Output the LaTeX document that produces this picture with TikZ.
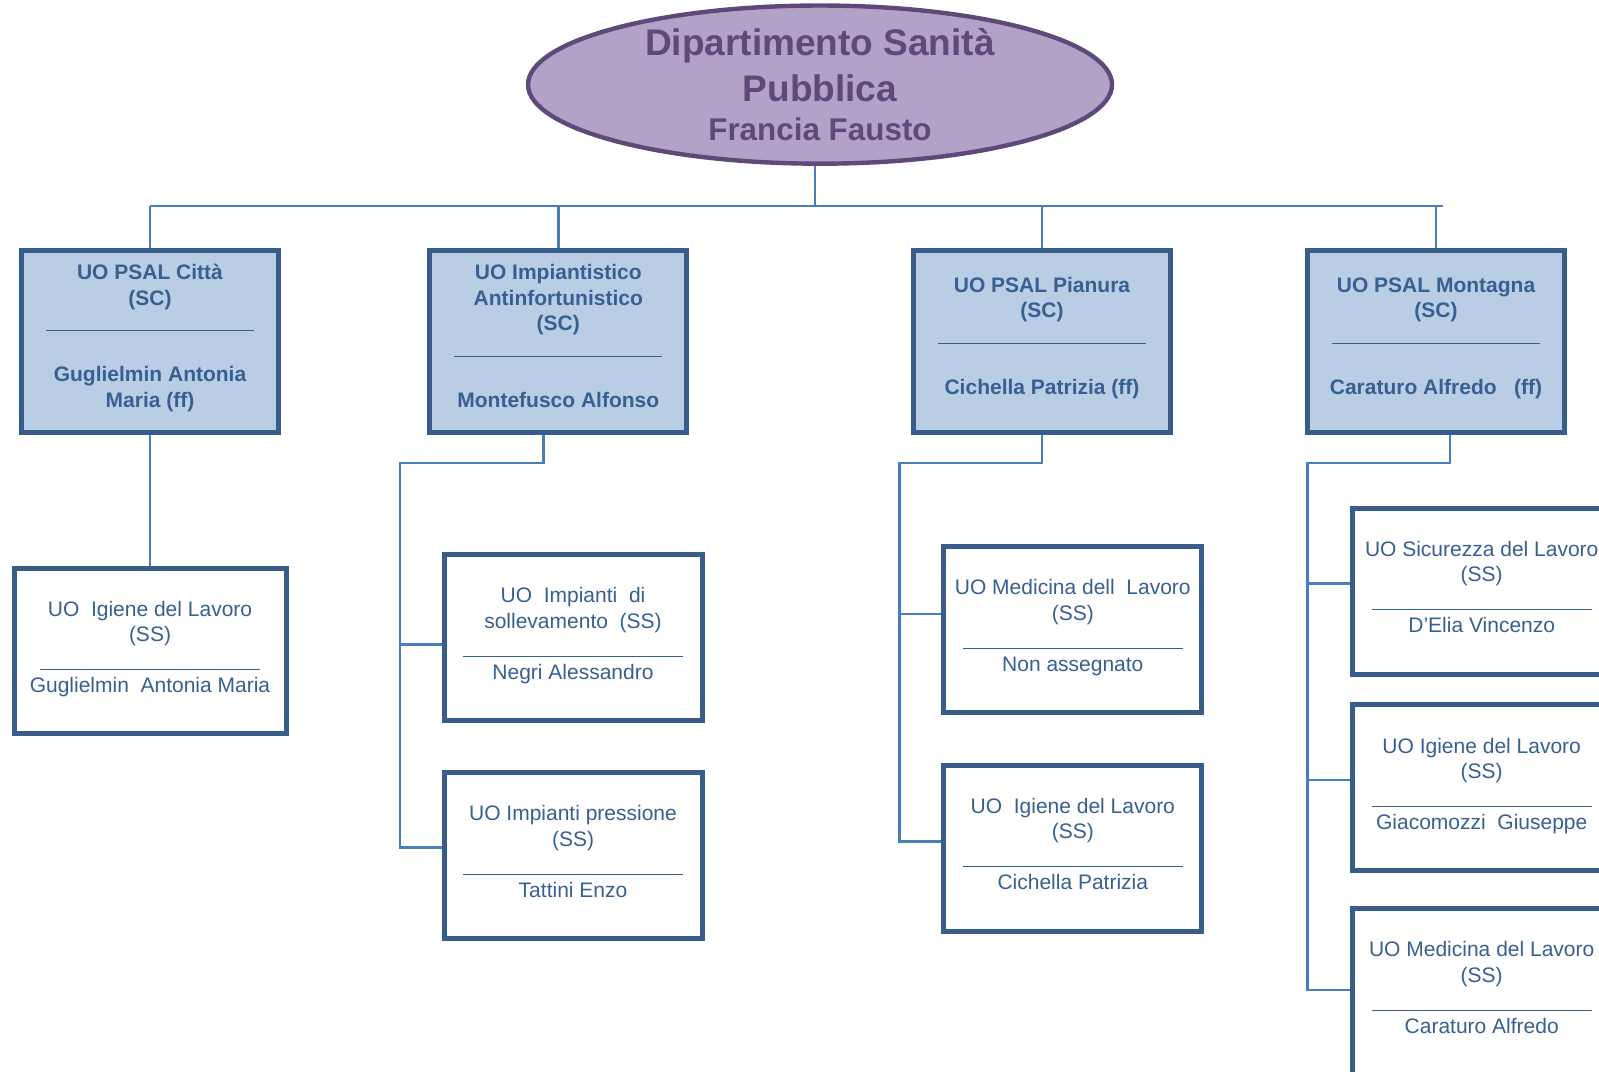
\documentclass[tikz,border=0pt]{standalone}
\usepackage{fontspec}
\setmainfont{Liberation Sans}
\usepackage{tikz}
\usetikzlibrary{shapes.geometric}
\definecolor{lilla}{HTML}{B3A2C7}
\definecolor{lillascuro}{HTML}{5F497A}
\definecolor{azzurro}{HTML}{B9CDE5}
\definecolor{bordo}{HTML}{385D8A}
\definecolor{linea}{HTML}{4A7EBB}
\definecolor{testo}{HTML}{376092}
\tikzstyle{dipartimento}=[ellipse, draw=lillascuro, fill=lilla, line width=2.2pt, minimum width=292pt, minimum height=73pt, inner sep=0pt, text=lillascuro, align=center, font=\bfseries\fontsize{18.5}{22.8}\selectfont]
\tikzstyle{uosc}=[rectangle, draw=bordo, fill=azzurro, line width=2.4pt, minimum width=128.5pt, minimum height=91pt, inner sep=0pt, text depth=6pt, text=testo, align=center, font=\bfseries\fontsize{10.5}{12.75}\selectfont]
\tikzstyle{uoss}=[rectangle, draw=bordo, fill=white, line width=2.5pt, minimum width=129pt, minimum height=83pt, inner sep=0pt, text depth=4pt, text=testo, align=center, font=\fontsize{10.5}{12.75}\selectfont]
\tikzstyle{collegamento}=[draw=linea, line width=1.2pt]
\newcommand{\riga}[2][-1.5pt]{\rule[#1]{#2}{0.5pt}}

\begin{document}
\begin{tikzpicture}[x=0.5pt, y=-0.5pt]
	\path[use as bounding box, clip] (0,0) rectangle (1599,1071);
	\node[dipartimento] (dsp) at (820,84.6) {Dipartimento Sanità\\Pubblica\\[-3.4pt]{\fontsize{15.7}{19.4}\selectfont Francia Fausto}};
	\node[uosc] (psal1) at (150,341.7) {UO PSAL Città\\(SC)\\\riga[-0.3pt]{104pt}\\[12.75pt]Guglielmin Antonia\\Maria (ff)};
	\node[uosc] (psal2) at (558.3,341.7) {UO Impiantistico\\Antinfortunistico\\(SC)\\\riga[-0.3pt]{104pt}\\[12.75pt]Montefusco Alfonso};
	\node[uosc] (psal3) at (1042,341.7) {UO PSAL Pianura\\(SC)\\\riga[-0.3pt]{104pt}\\[12.75pt]Cichella Patrizia (ff)};
	\node[uosc] (psal4) at (1436,341.7) {UO PSAL Montagna\\(SC)\\\riga[-0.3pt]{104pt}\\[12.75pt]Caraturo Alfredo\ \ \ (ff)};
	\node[uoss, minimum width=136pt, minimum height=82.5pt] (igiene1) at (150,651) {UO\ \ Igiene del Lavoro\\(SS)\\\riga{110pt}\\Guglielmin\ \ Antonia Maria};
	\node[uoss] (imp1) at (573,637.4) {UO\ \ Impianti\ \ di\\sollevamento\ \ (SS)\\\riga{110pt}\\Negri Alessandro};
	\node[uoss] (imp2) at (573,855.6) {UO Impianti pressione\\(SS)\\\riga{110pt}\\Tattini Enzo};
	\node[uoss] (med3) at (1072.8,629.2) {UO Medicina dell\ \ Lavoro\\(SS)\\\riga{110pt}\\Non assegnato};
	\node[uoss] (igiene3) at (1072.8,848) {UO\ \ Igiene del Lavoro\\(SS)\\\riga{110pt}\\Cichella Patrizia};
	\node[uoss] (sic4) at (1481.7,591) {UO Sicurezza del Lavoro\\(SS)\\\riga{110pt}\\D’Elia Vincenzo};
	\node[uoss] (igiene4) at (1481.7,787.8) {UO Igiene del Lavoro\\(SS)\\\riga{110pt}\\Giacomozzi\ \ Giuseppe};
	\node[uoss] (med4) at (1481.7,991.6) {UO Medicina del Lavoro\\(SS)\\\riga{110pt}\\Caraturo Alfredo};
	\coordinate (centro) at (815,206);
	\coordinate (bussx) at (150,206);
	\coordinate (busdx) at (1443,206);
	\draw[collegamento] (centro |- dsp.south) -- (centro);
	\draw[collegamento] (bussx) -- (busdx);
	\draw[collegamento] (psal1.north |- bussx) -- (psal1.north);
	\draw[collegamento] (psal2.north |- bussx) -- (psal2.north);
	\draw[collegamento] (psal3.north |- bussx) -- (psal3.north);
	\draw[collegamento] (psal4.north |- bussx) -- (psal4.north);
	\draw[collegamento] (psal1.south) -- (igiene1.north);
	\coordinate (gomito2) at (543.5,463);
	\coordinate (r2a) at (399.8,644.5);
	\coordinate (r2b) at (399.8,847.4);
	\draw[collegamento] (gomito2 |- psal2.south) -- (gomito2) -- (gomito2 -| r2a) -- (r2b) -- (r2b -| imp2.west);
	\draw[collegamento] (r2a) -- (r2a -| imp1.west);
	\coordinate (gomito3) at (1042,463);
	\coordinate (r3a) at (899.4,613.9);
	\coordinate (r3b) at (899.4,841.3);
	\draw[collegamento] (gomito3 |- psal3.south) -- (gomito3) -- (gomito3 -| r3a) -- (r3b) -- (r3b -| igiene3.west);
	\draw[collegamento] (r3a) -- (r3a -| med3.west);
	\coordinate (gomito4) at (1450,463);
	\coordinate (r4a) at (1307.3,583.3);
	\coordinate (r4b) at (1307.3,780.1);
	\coordinate (r4c) at (1307.3,990.2);
	\draw[collegamento] (gomito4 |- psal4.south) -- (gomito4) -- (gomito4 -| r4a) -- (r4c) -- (r4c -| med4.west);
	\draw[collegamento] (r4a) -- (r4a -| sic4.west);
	\draw[collegamento] (r4b) -- (r4b -| igiene4.west);
\end{tikzpicture}
\end{document}
